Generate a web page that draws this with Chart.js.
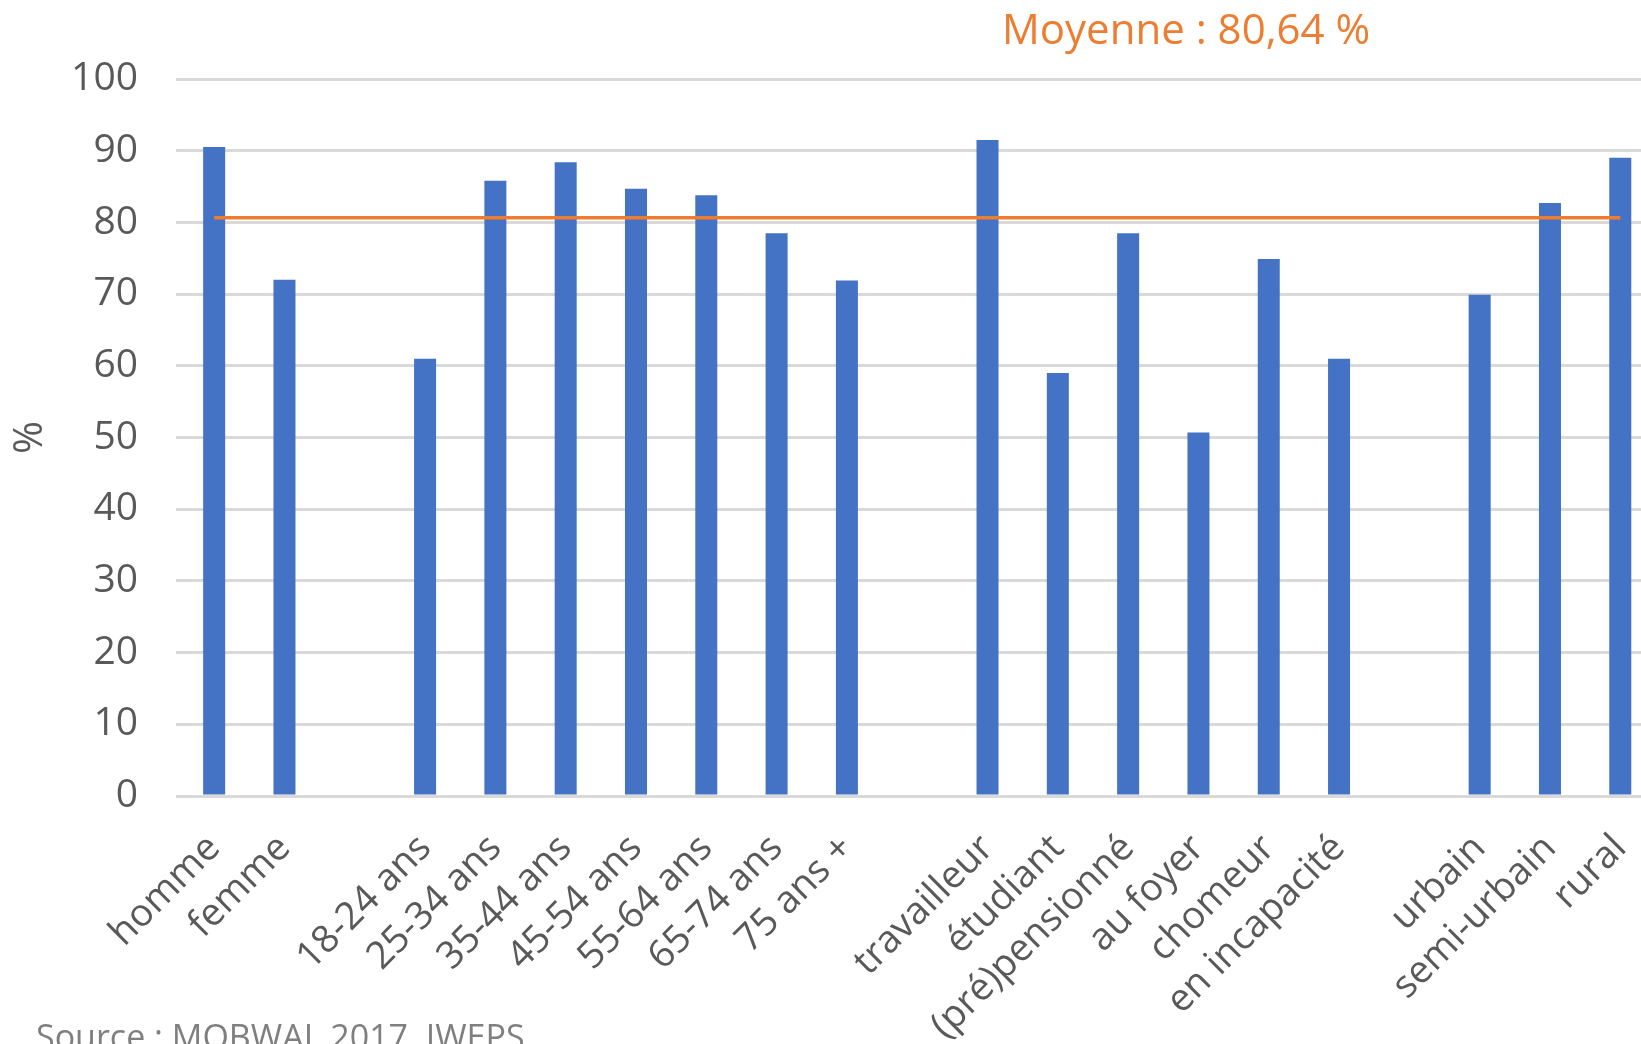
<!DOCTYPE html>
<html lang="fr">
<head>
<meta charset="utf-8">
<title>Moyenne : 80,64 %</title>
<script src="https://cdn.jsdelivr.net/npm/chart.js@4.4.1/dist/chart.umd.min.js"></script>
<style>
    html, body { margin: 0; padding: 0; background: #fff; overflow: hidden; }
    #wrap { width: 1683px; height: 1044px; }
</style>
</head>
<body>
<div id="wrap"><canvas id="chart" width="1683" height="1044"></canvas></div>
<script>
    // Categories (empty strings are the gaps between groups)
    var categories = [
        'homme', 'femme', '',
        '18-24 ans', '25-34 ans', '35-44 ans', '45-54 ans', '55-64 ans', '65-74 ans', '75 ans +', '',
        'travailleur', 'étudiant', '(pré)pensionné', 'au foyer', 'chomeur', 'en incapacité', '',
        'urbain', 'semi-urbain', 'rural'
    ];
    var values = [
        90.5, 72.0, null,
        61.0, 85.8, 88.4, 84.7, 83.8, 78.5, 71.9, null,
        91.5, 59.0, 78.5, 50.7, 74.9, 61.0, null,
        69.9, 82.7, 89.0
    ];
    var meanValue = 80.64;
    var yTicks = [0, 10, 20, 30, 40, 50, 60, 70, 80, 90, 100];
    var titleText = 'Moyenne : 80,64 %';
    var sourceText = 'Source : MOBWAL 2017, IWEPS';

    var labelGrey = '#595959';
    var gridGrey = '#d9d9d9';

    // Extra texts: the average caption and the source line
    var textPlugin = {
        id: 'extraTexts',
        afterDraw: function (chart) {
            var ctx = chart.ctx;
            ctx.save();
            ctx.textAlign = 'left';
            ctx.textBaseline = 'alphabetic';
            ctx.fillStyle = '#ED7D31';
            ctx.font = '42px "Open Sans"';
            ctx.fillText(titleText, 1002, 44);
            ctx.fillStyle = '#7f7f7f';
            ctx.font = '34px "Open Sans"';
            ctx.fillText(sourceText, 36, 1049);
            ctx.restore();
        }
    };

    var ctx = document.getElementById('chart').getContext('2d');
    var chart = new Chart(ctx, {
        type: 'bar',
        data: {
            labels: categories,
            datasets: [{
                type: 'line',
                label: 'Moyenne',
                data: categories.map(function () { return meanValue; }),
                borderColor: '#ED7D31',
                borderWidth: 3.5,
                pointRadius: 0,
                fill: false,
                order: 0
            }, {
                label: '%',
                data: values,
                backgroundColor: '#4472C4',
                barPercentage: 0.313,
                categoryPercentage: 1,
                order: 1
            }]
        },
        options: {
            responsive: false,
            animation: false,
            events: [],
            layout: { padding: { top: 79, right: 20, left: 0, bottom: 0 } },
            plugins: {
                legend: { display: false },
                tooltip: { enabled: false }
            },
            scales: {
                x: {
                    grid: { display: false, drawTicks: false },
                    border: { display: false },
                    ticks: {
                        autoSkip: false,
                        minRotation: 45,
                        maxRotation: 45,
                        padding: 30,
                        color: labelGrey,
                        font: { family: 'Open Sans', size: 38 }
                    },
                    afterFit: function (scale) { scale.height = 248; }
                },
                y: {
                    min: 0,
                    max: 100,
                    afterBuildTicks: function (scale) {
                        scale.ticks = yTicks.map(function (v) { return { value: v }; });
                    },
                    grid: { color: gridGrey, lineWidth: 3, tickLength: 3, drawTicks: true, tickColor: gridGrey },
                    border: { display: false },
                    ticks: {
                        padding: 38,
                        color: labelGrey,
                        font: { family: 'Open Sans', size: 39 }
                    },
                    title: {
                        display: true,
                        text: '%',
                        color: labelGrey,
                        font: { family: 'Open Sans', size: 40 },
                        padding: { top: 7, bottom: 0 }
                    },
                    afterFit: function (scale) { scale.width = 179; }
                }
            }
        },
        plugins: [textPlugin]
    });
</script>
</body>
</html>
